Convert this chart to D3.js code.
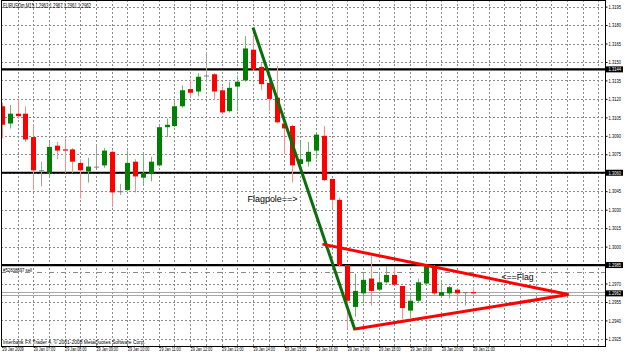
<!DOCTYPE html>
<html><head><meta charset="utf-8">
<script src="https://cdn.jsdelivr.net/npm/d3@7"></script>
<style>html,body{margin:0;padding:0;background:#fff;overflow:hidden}svg{display:block}</style>
</head><body>
<script>
// ---------- DATA ----------
const symbolTitle = "EURUSDm,M15 1.2963 1.2967 1.2961 1.2962";
const opens  = [1.3114,1.3100,1.3108,1.3108,1.3089,1.3062,1.3060,1.3082,1.3079,1.3079,1.3068,1.3061,1.3065,1.3066,1.3077,1.3045,1.3046,1.3069,1.3056,1.3059,1.3066,1.3097,1.3098,1.3114,1.3128,1.3126,1.3139,1.3140,1.3127,1.3110,1.3130,1.3135,1.3160,1.3146,1.3133,1.3121,1.3100,1.3098,1.3067,1.3069,1.3078,1.3090,1.3055,1.3038,1.2985,1.2951,1.2962,1.2974,1.2965,1.2971,1.2977,1.2968,1.2948,1.2956,1.2970,1.2984,1.2960,1.2962,1.2965,1.2963,1.2963];
const highs  = [1.3117,1.3115,1.3119,1.3114,1.3099,1.3069,1.3085,1.3085,1.3088,1.3080,1.3071,1.3072,1.3083,1.3080,1.3078,1.3051,1.3078,1.3071,1.3075,1.3073,1.3098,1.3104,1.3120,1.3131,1.3136,1.3141,1.3158,1.3141,1.3130,1.3134,1.3139,1.3171,1.3172,1.3149,1.3134,1.3147,1.3100,1.3099,1.3085,1.3085,1.3092,1.3098,1.3055,1.3040,1.2985,1.2978,1.2979,1.2992,1.2979,1.2984,1.2984,1.2968,1.2962,1.2974,1.2985,1.2985,1.2971,1.2968,1.2966,1.2963,1.2967];
const lows   = [1.3088,1.3096,1.3104,1.3085,1.3046,1.3049,1.3056,1.3071,1.3060,1.3060,1.3039,1.3052,1.3064,1.3064,1.3032,1.3042,1.3045,1.3044,1.3051,1.3053,1.3065,1.3089,1.3097,1.3113,1.3121,1.3122,1.3134,1.3119,1.3108,1.3109,1.3110,1.3134,1.3143,1.3127,1.3110,1.3100,1.3075,1.3052,1.3065,1.3065,1.3071,1.3053,1.3031,1.2984,1.2933,1.2943,1.2954,1.2952,1.2964,1.2970,1.2969,1.2941,1.2942,1.2955,1.2968,1.2960,1.2959,1.2958,1.2954,1.2952,1.2961];
const closes = [1.3099,1.3108,1.3106,1.3087,1.3062,1.3062,1.3081,1.3078,1.3078,1.3069,1.3062,1.3065,1.3065,1.3078,1.3044,1.3045,1.3068,1.3057,1.3060,1.3069,1.3097,1.3099,1.3114,1.3127,1.3125,1.3138,1.3139,1.3126,1.3109,1.3129,1.3134,1.3161,1.3144,1.3132,1.3120,1.3101,1.3096,1.3066,1.3071,1.3077,1.3091,1.3054,1.3038,1.2985,1.2956,1.2964,1.2973,1.2964,1.2971,1.2977,1.2969,1.2950,1.2956,1.2971,1.2984,1.2962,1.2963,1.2967,1.2962,1.2963,1.2962];

const priceTicks = [1.3195,1.3180,1.3165,1.3150,1.3135,1.3120,1.3105,1.3090,1.3075,1.3060,1.3045,1.3030,1.3015,1.3000,1.2985,1.2970,1.2955,1.2940,1.2925];
const timeLabelBars = [0,4,8,12,16,20,24,28,32,36,40,44,48,52,56,60];
const timeLabels = ["29 Jan 2009","29 Jan 07:00","29 Jan 08:00","29 Jan 09:00","29 Jan 10:00","29 Jan 11:00","29 Jan 12:00","29 Jan 13:00","29 Jan 14:00","29 Jan 15:00","29 Jan 16:00","29 Jan 17:00","29 Jan 18:00","29 Jan 19:00","29 Jan 20:00","29 Jan 21:00"];

const levelLines = [1.3144, 1.3060, 1.2985];     // horizontal black levels
const bidPrice = 1.2962;
const bidLines = [1.29628, 1.29608];
const orderPrice = 1.2979;
const orderLabel = "#52838697 sell";

// trend lines: [bar, price]
const flagpoleLine = [[32.0, 1.3178], [45.0, 1.2932]];
const flagUpper = [[40.85, 1.3002], [72.2, 1.2961]];
const flagLower = [[45.0, 1.2933], [72.2, 1.2961]];
const flagpoleText = {bar: 31.3, price: 1.3036, text: "Flagpole==>"};
const flagText = {bar: 63.66, price: 1.2973, text: "<==Flag"};
const copyright = "Interbank FX Trader 4, \u00A9 2001-2008 MetaQuotes Software Corp.";

// ---------- LAYOUT ----------
const W = 625, H = 355;
const plot = {l: 1, r: 606, t: 0, b: 346};
const x = d3.scaleLinear().domain([0, 60]).range([1.8, 472.8]);
const y = d3.scaleLinear().domain([1.2925, 1.3195]).range([338.9, 6.6]);
const FONT = "'Liberation Sans', Arial, sans-serif";

const svg = d3.select("body").append("svg").attr("width", W).attr("height", H)
  .style("font-family", FONT);

svg.append("rect").attr("width", W).attr("height", H).attr("fill", "#fff");

svg.append("defs").append("clipPath").attr("id", "clip")
  .append("rect").attr("x", plot.l).attr("y", plot.t).attr("width", plot.r - plot.l).attr("height", plot.b - plot.t);

const g = svg.append("g").attr("clip-path", "url(#clip)");

// grid - vertical every 2 bars
const gridBars = d3.range(2, 78, 2);
g.selectAll("line.vg").data(gridBars).join("line")
  .attr("x1", d => Math.round(x(d)) + 0.5).attr("x2", d => Math.round(x(d)) + 0.5)
  .attr("y1", plot.t).attr("y2", plot.b)
  .attr("stroke", "#8c8c8c").attr("stroke-width", 1).attr("stroke-dasharray", "2,2");
// grid - horizontal
g.selectAll("line.hg").data(priceTicks).join("line")
  .attr("x1", plot.l).attr("x2", plot.r)
  .attr("y1", d => Math.round(y(d)) + 0.5).attr("y2", d => Math.round(y(d)) + 0.5)
  .attr("stroke", "#8c8c8c").attr("stroke-width", 1).attr("stroke-dasharray", "2,2");

// order line (dash-dot)
g.append("line").attr("x1", plot.l).attr("x2", plot.r)
  .attr("y1", Math.round(y(orderPrice)) + 0.5).attr("y2", Math.round(y(orderPrice)) + 0.5)
  .attr("stroke", "#8a8a8a").attr("stroke-width", 1).attr("stroke-dasharray", "5,3,1,3");

// bid lines
g.selectAll("line.bid").data(bidLines).join("line")
  .attr("x1", plot.l).attr("x2", plot.r)
  .attr("y1", d => Math.round(y(d)) + 0.5).attr("y2", d => Math.round(y(d)) + 0.5)
  .attr("stroke", "#a8a8a8").attr("stroke-width", 1);

// level lines
g.selectAll("line.lvl").data(levelLines).join("line")
  .attr("x1", plot.l).attr("x2", plot.r)
  .attr("y1", d => y(d)).attr("y2", d => y(d))
  .attr("stroke", "#000").attr("stroke-width", 2.2);

// candles
const bars = opens.map((o, i) => ({i, o, h: highs[i], l: lows[i], c: closes[i]}));
const bodyColor = d => d.c > d.o ? "#008000" : (d.c < d.o ? "#ff0000" : "#7a7a7a");
const wickColor = d => d.c > d.o ? "#6fb86f" : (d.c < d.o ? "#ff8c8c" : "#a0a0a0");

const cg = g.append("g");
cg.selectAll("line.wick").data(bars).join("line")
  .attr("x1", d => Math.round(x(d.i)) + 0.5).attr("x2", d => Math.round(x(d.i)) + 0.5)
  .attr("y1", d => y(d.h)).attr("y2", d => y(d.l))
  .attr("stroke", wickColor).attr("stroke-width", 1);
cg.selectAll("rect.body").data(bars).join("rect")
  .attr("x", d => Math.round(x(d.i)) - 2)
  .attr("width", d => d.c === d.o ? 5 : 5)
  .attr("y", d => y(Math.max(d.o, d.c)))
  .attr("height", d => Math.max(1, y(Math.min(d.o, d.c)) - y(Math.max(d.o, d.c))))
  .attr("fill", bodyColor);

// trend lines
const line = d3.line().x(d => x(d[0])).y(d => y(d[1]));
g.append("path").attr("d", line(flagpoleLine)).attr("stroke", "#0a6e0a").attr("stroke-width", 3).attr("fill", "none");
g.append("path").attr("d", line(flagUpper)).attr("stroke", "#ff0000").attr("stroke-width", 3).attr("fill", "none");
g.append("path").attr("d", line(flagLower)).attr("stroke", "#ff0000").attr("stroke-width", 3).attr("fill", "none");

// annotations
g.append("text").attr("x", x(flagpoleText.bar)).attr("y", y(flagpoleText.price))
  .attr("font-size", 8.5).attr("fill", "#000").attr("textLength", 50).attr("lengthAdjust", "spacingAndGlyphs")
  .text(flagpoleText.text);
g.append("text").attr("x", x(flagText.bar)).attr("y", y(flagText.price))
  .attr("font-size", 8.5).attr("fill", "#000").attr("textLength", 32).attr("lengthAdjust", "spacingAndGlyphs")
  .text(flagText.text);

// order label
g.append("text").attr("x", 3).attr("y", y(orderPrice) - 0.8)
  .attr("font-size", 5).attr("fill", "#000").attr("textLength", 29).attr("lengthAdjust", "spacingAndGlyphs")
  .text(orderLabel);

// title
g.append("text").attr("x", 3).attr("y", 8).attr("font-size", 6.3).attr("fill", "#000")
  .attr("textLength", 88).attr("lengthAdjust", "spacingAndGlyphs").text(symbolTitle);

// copyright
g.append("text").attr("x", 3).attr("y", 344.3).attr("font-size", 5.3).attr("fill", "#000")
  .attr("textLength", 142).attr("lengthAdjust", "spacingAndGlyphs").text(copyright);

// frame
svg.append("rect").attr("x", plot.l + 0.5).attr("y", plot.t + 0.5).attr("width", plot.r - plot.l - 1).attr("height", plot.b - plot.t)
  .attr("fill", "none").attr("stroke", "#000").attr("stroke-width", 1);

// right axis
const ra = svg.append("g").attr("transform", `translate(${plot.r - 0.5},0)`)
  .call(d3.axisRight(y).tickValues(priceTicks).tickFormat(d3.format(".4f")).tickSize(2).tickPadding(1));
ra.select(".domain").remove();
ra.selectAll("line").attr("stroke", "#000");
ra.selectAll("text").attr("font-family", FONT).attr("font-size", 5.2).attr("fill", "#000")
  .attr("textLength", 12.5).attr("lengthAdjust", "spacingAndGlyphs");

// right boxes for levels and bid
const boxes = levelLines.concat([bidPrice]);
const bg = svg.append("g");
bg.selectAll("rect").data(boxes).join("rect")
  .attr("x", plot.r).attr("y", d => y(d) - 3).attr("width", 17).attr("height", 6).attr("fill", "#000");
bg.selectAll("text").data(boxes).join("text")
  .attr("x", plot.r + 2.5).attr("y", d => y(d) + 1.9).attr("font-size", 5.2).attr("fill", "#fff")
  .attr("textLength", 12.5).attr("lengthAdjust", "spacingAndGlyphs").text(d => d3.format(".4f")(d));

// bottom axis
const ba = svg.append("g").attr("transform", `translate(0,${plot.b})`)
  .call(d3.axisBottom(x).tickValues(timeLabelBars).tickFormat((d, k) => timeLabels[k]).tickSize(2).tickPadding(1));
ba.select(".domain").remove();
ba.selectAll("line").attr("stroke", "#000").attr("transform", "translate(0.5,0)");
ba.selectAll("text").attr("font-family", FONT).attr("font-size", 5.2).attr("fill", "#000")
  .attr("text-anchor", "start").attr("dy", "0.45em").attr("y", 3)
  .attr("textLength", 21.5).attr("lengthAdjust", "spacingAndGlyphs");
</script>
</body></html>
